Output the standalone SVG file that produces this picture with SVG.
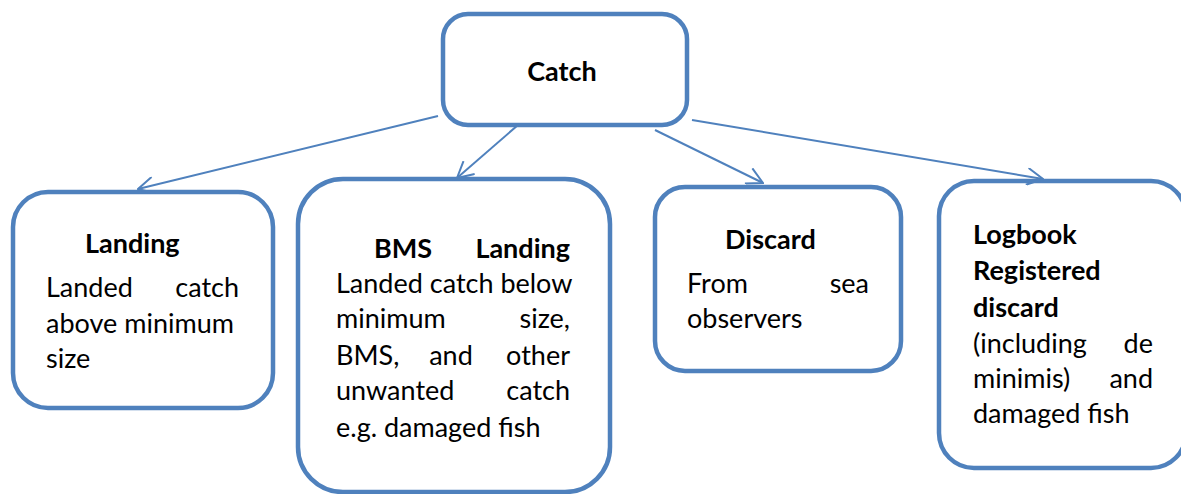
<svg xmlns="http://www.w3.org/2000/svg" width="1181" height="494" viewBox="0 0 1181 494">
<style>
.box{fill:#fff;stroke:#4F81BD;stroke-width:4.5}
.con{stroke:#4F81BD;stroke-width:2;fill:none}
text{font-family:Lato,"Open Sans","Liberation Sans",sans-serif;font-size:27px;fill:#000}
.b{font-weight:bold}
.e{text-anchor:end}
.m{text-anchor:middle}
</style>
<defs>
<marker id="ah" viewBox="0 0 18 18" refX="17" refY="9" markerWidth="18" markerHeight="18" markerUnits="userSpaceOnUse" orient="auto">
<path d="M1,0.5 L17,9 L1,17.5" fill="none" stroke="#4F81BD" stroke-width="2"/>
</marker>
</defs>
<rect width="1181" height="494" fill="#fff"/>
<g id="catch">
<rect class="box" x="443" y="14" width="244" height="111" rx="25"/>
<text class="b m" x="562" y="81">Catch</text>
</g>
<g id="landing">
<rect class="box" x="13" y="192" width="260" height="216" rx="35"/>
<text class="b" x="85" y="253">Landing</text>
<text x="46" y="297">Landed</text><text class="e" x="239" y="297">catch</text>
<text x="46" y="333">above minimum</text>
<text x="46" y="368">size</text>
</g>
<g id="bms">
<rect class="box" x="298" y="179" width="312" height="313" rx="45"/>
<text class="b" x="374" y="258">BMS</text><text class="b e" x="570" y="258">Landing</text>
<text x="336" y="293">Landed catch below</text>
<text x="336" y="328">minimum</text><text class="e" x="570" y="328">size,</text>
<text x="336" y="365">BMS,</text><text class="m" x="451" y="365">and</text><text class="e" x="570" y="365">other</text>
<text x="336" y="400">unwanted</text><text class="e" x="570" y="400">catch</text>
<text x="336" y="437">e.g. damaged fish</text>
</g>
<g id="discard">
<rect class="box" x="655" y="187" width="246" height="184" rx="30"/>
<text class="b" x="725" y="249">Discard</text>
<text x="687" y="293">From</text><text class="e" x="869" y="293">sea</text>
<text x="687" y="328">observers</text>
</g>
<g id="logbook">
<rect class="box" x="939" y="181" width="247" height="287" rx="35"/>
<text class="b" x="973" y="244">Logbook</text>
<text class="b" x="973" y="280">Registered</text>
<text class="b" x="973" y="317">discard</text>
<text x="973" y="353">(including</text><text class="e" x="1153" y="353">de</text>
<text x="973" y="388">minimis)</text><text class="e" x="1153" y="388">and</text>
<text x="973" y="423">damaged fish</text>
</g>
<g id="connectors">
<line class="con" x1="438" y1="116" x2="138" y2="189" marker-end="url(#ah)"/>
<line class="con" x1="518" y1="125" x2="457" y2="178" marker-end="url(#ah)"/>
<line class="con" x1="655" y1="130" x2="763" y2="183" marker-end="url(#ah)"/>
<line class="con" x1="692" y1="120" x2="1043" y2="179" marker-end="url(#ah)"/>
</g>
</svg>
